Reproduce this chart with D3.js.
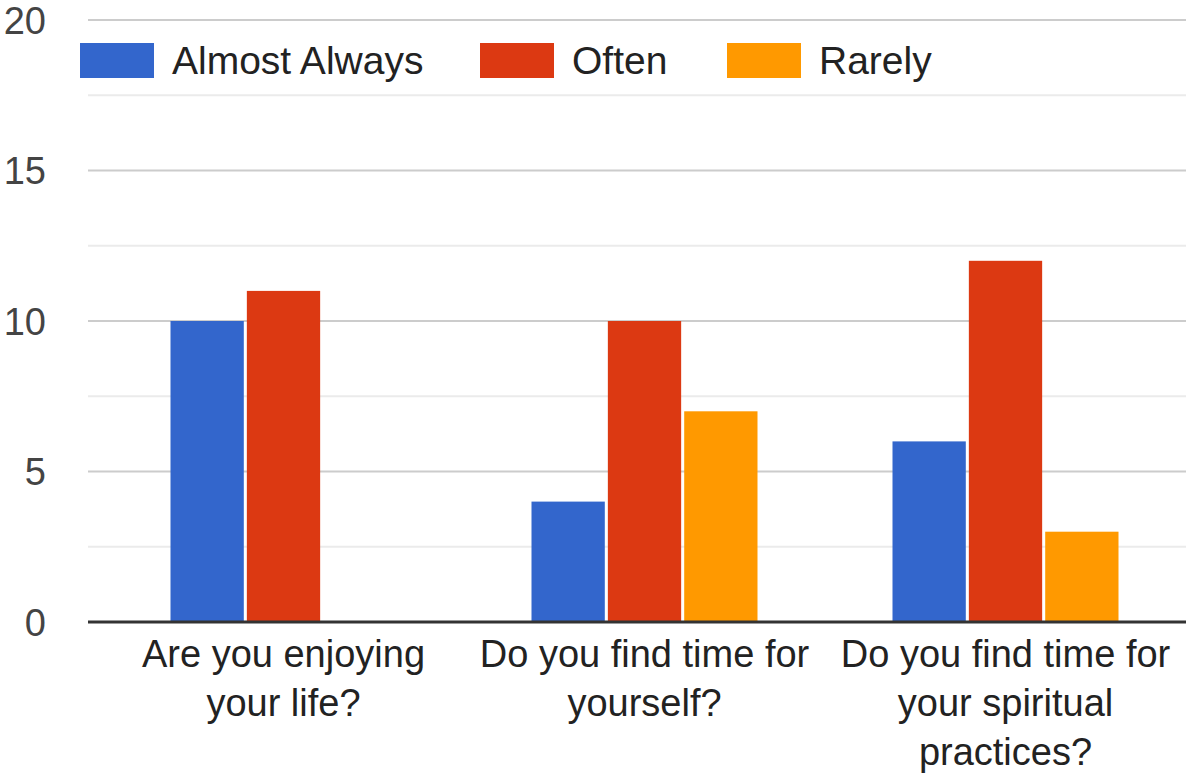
<!DOCTYPE html>
<html>
<head>
<meta charset="utf-8">
<script src="https://cdn.jsdelivr.net/npm/d3@7"></script>
<style>
  html, body { margin: 0; padding: 0; background: #fff; }
  svg { display: block; }
  text { font-family: "Liberation Sans", Arial, sans-serif; }
</style>
</head>
<body>
<svg id="chart" width="1186" height="774"></svg>
<script>
// Survey answers per question
const categories = [
  ["Are you enjoying", "your life?"],
  ["Do you find time for", "yourself?"],
  ["Do you find time for", "your spiritual", "practices?"]
];
const seriesNames = ["Almost Always", "Often", "Rarely"];
const almostAlways = [10, 4, 6];
const often = [11, 10, 12];
const rarely = [0, 7, 3];
const yTicks = [0, 5, 10, 15, 20];
const yMinorTicks = [2.5, 7.5, 12.5, 17.5];
const colors = ["#3366cc", "#dc3912", "#ff9900"];

const values = [almostAlways, often, rarely];
const rows = categories.map((c, i) => ({
  key: i,
  label: c,
  vals: seriesNames.map((s, j) => ({ series: s, idx: j, value: values[j][i] }))
}));

const svg = d3.select("#chart");
const plotLeft = 88, plotRight = 1186;

const y = d3.scaleLinear().domain([0, 20]).range([622, 20]);
const x0 = d3.scaleBand().domain(rows.map(r => r.key)).range([103, 1186]).padding(0);
const groupWidth = 226;
const x1 = d3.scaleBand().domain(d3.range(seriesNames.length)).range([0, groupWidth]).paddingInner(0.04);

// Minor gridlines
svg.append("g").selectAll("line").data(yMinorTicks).join("line")
  .attr("x1", plotLeft).attr("x2", plotRight)
  .attr("y1", d => y(d)).attr("y2", d => y(d))
  .attr("stroke", "#ebebeb").attr("stroke-width", 2);

// Major gridlines
svg.append("g").selectAll("line").data(yTicks.filter(d => d > 0)).join("line")
  .attr("x1", plotLeft).attr("x2", plotRight)
  .attr("y1", d => y(d)).attr("y2", d => y(d))
  .attr("stroke", "#cccccc").attr("stroke-width", 2);

// Y axis labels
svg.append("g").selectAll("text").data(yTicks).join("text")
  .attr("x", 46).attr("y", d => y(d))
  .attr("dy", "0.36em")
  .attr("text-anchor", "end")
  .attr("font-size", 38)
  .attr("fill", "#444")
  .text(d => d);

// Bars
const groups = svg.append("g").selectAll("g").data(rows).join("g")
  .attr("transform", r => `translate(${x0(r.key) + x0.bandwidth() / 2 - groupWidth / 2},0)`);

groups.selectAll("rect").data(r => r.vals.filter(v => v.value > 0)).join("rect")
  .attr("x", v => x1(v.idx))
  .attr("width", x1.bandwidth())
  .attr("y", v => y(v.value))
  .attr("height", v => y(0) - y(v.value))
  .attr("fill", v => colors[v.idx]);

// Baseline
svg.append("line")
  .attr("x1", plotLeft).attr("x2", plotRight)
  .attr("y1", y(0)).attr("y2", y(0))
  .attr("stroke", "#333").attr("stroke-width", 3);

// Category labels
const lab = svg.append("g").selectAll("text").data(rows).join("text")
  .attr("text-anchor", "middle")
  .attr("font-size", 38)
  .attr("fill", "#222");
lab.selectAll("tspan").data(r => r.label.map(l => ({ l, cx: x0(r.key) + x0.bandwidth() / 2 }))).join("tspan")
  .attr("x", d => d.cx)
  .attr("y", (d, i) => 667 + i * 49)
  .text(d => d.l);

// Legend
const legendX = [80, 480, 727];
const leg = svg.append("g").selectAll("g").data(seriesNames).join("g")
  .attr("transform", (d, i) => `translate(${legendX[i]},43)`);
leg.append("rect").attr("width", 74).attr("height", 35).attr("fill", (d, i) => colors[i]);
leg.append("text")
  .attr("x", 92).attr("y", 31)
  .attr("font-size", 39)
  .attr("fill", "#222")
  .text(d => d);
</script>
</body>
</html>
